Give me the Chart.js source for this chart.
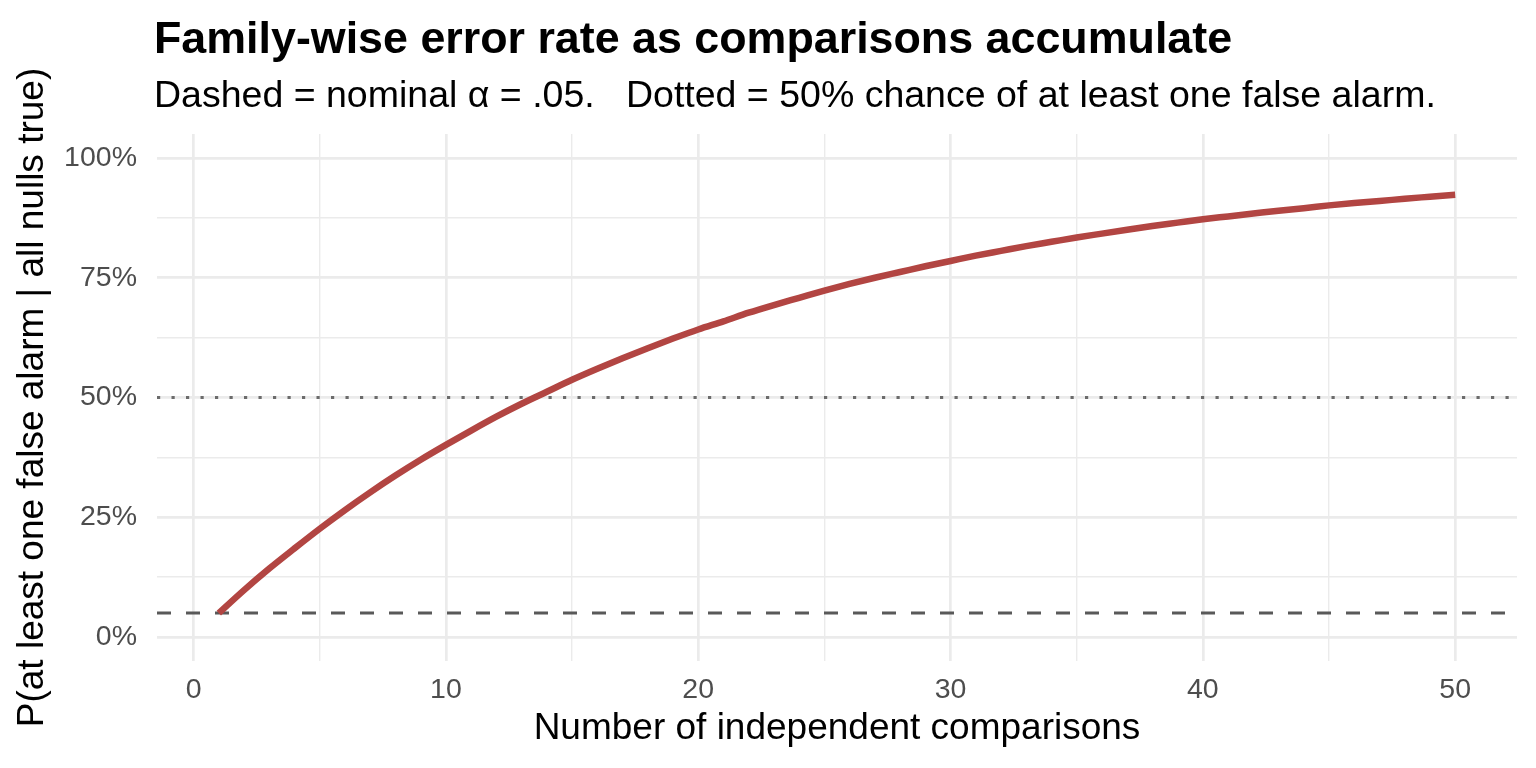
<!DOCTYPE html>
<html lang="en">
<head>
    <meta charset="UTF-8">
    <title>Family-wise error rate</title>
    <script src="https://cdn.jsdelivr.net/npm/chart.js"></script>
    <style>
        body { margin: 0; background: #fff; }
        .wrap { position: relative; width: 1536px; height: 768px; font-family: "Liberation Sans", Arial, sans-serif; }
        .title { position: absolute; left: 154px; top: 15px; font-size: 44.8px; font-weight: bold; line-height: 1; color: #000; white-space: pre; }
        .subtitle { position: absolute; left: 154px; top: 76px; font-size: 37.5px; line-height: 1; color: #000; white-space: pre; }
        canvas { position: absolute; left: 0; top: 0; }
    </style>
</head>
<body>
    <div class="wrap">
        <canvas id="fwerChart" width="1536" height="768"></canvas>
        <div class="title">Family-wise error rate as comparisons accumulate</div>
        <div class="subtitle">Dashed = nominal α = .05.   Dotted = 50% chance of at least one false alarm.</div>
    </div>

    <script>
        // values
        const comparisons = [1, 2, 3, 4, 5, 6, 7, 8, 9, 10,
            11, 12, 13, 14, 15, 16, 17, 18, 19, 20,
            21, 22, 23, 24, 25, 26, 27, 28, 29, 30,
            31, 32, 33, 34, 35, 36, 37, 38, 39, 40,
            41, 42, 43, 44, 45, 46, 47, 48, 49, 50];
        const fwer = [0.050, 0.098, 0.143, 0.185, 0.226, 0.265, 0.302, 0.337, 0.370, 0.401,
            0.431, 0.460, 0.487, 0.512, 0.537, 0.560, 0.582, 0.603, 0.623, 0.642,
            0.659, 0.677, 0.693, 0.708, 0.723, 0.737, 0.750, 0.762, 0.774, 0.785,
            0.796, 0.806, 0.816, 0.825, 0.834, 0.842, 0.850, 0.858, 0.865, 0.872,
            0.878, 0.884, 0.890, 0.895, 0.901, 0.906, 0.910, 0.915, 0.919, 0.923];

        const nominalAlpha = 0.05;
        const halfChance = 0.5;

        const xMajor = [0, 10, 20, 30, 40, 50];
        const xGrid = [0, 5, 10, 15, 20, 25, 30, 35, 40, 45, 50];
        const yMajor = [0, 0.25, 0.5, 0.75, 1];
        const yGrid = [0, 0.125, 0.25, 0.375, 0.5, 0.625, 0.75, 0.875, 1];
        const yLabels = ['0%', '25%', '50%', '75%', '100%'];

        const xMin = -1.45, xMax = 52.45;
        const yMin = -0.05, yMax = 1.05;

        const FONT = '"Liberation Sans", Arial, sans-serif';

        function refLine(y) {
            return [{ x: xMin, y: y }, { x: xMax, y: y }];
        }

        const ctx = document.getElementById('fwerChart').getContext('2d');
        const chart = new Chart(ctx, {
            type: 'line',
            data: {
                datasets: [
                    {
                        label: 'FWER',
                        data: comparisons.map((n, i) => ({ x: n, y: fwer[i] })),
                        borderColor: '#B24542',
                        borderWidth: 6.5,
                        pointRadius: 0,
                        cubicInterpolationMode: 'monotone',
                        borderCapStyle: 'butt'
                    },
                    {
                        label: 'nominal alpha',
                        data: refLine(nominalAlpha),
                        borderColor: '#595959',
                        borderWidth: 3,
                        borderDash: [14, 15],
                        pointRadius: 0
                    },
                    {
                        label: '50% chance',
                        data: refLine(halfChance),
                        borderColor: '#6b6b6b',
                        borderWidth: 3.2,
                        borderDash: [3.2, 11.3],
                        pointRadius: 0
                    }
                ]
            },
            options: {
                responsive: false,
                animation: false,
                devicePixelRatio: 1,
                layout: { padding: { top: 134, right: 19, bottom: 0, left: 0 } },
                plugins: {
                    legend: { display: false },
                    tooltip: { enabled: false }
                },
                scales: {
                    x: {
                        type: 'linear',
                        min: xMin,
                        max: xMax,
                        afterBuildTicks: s => { s.ticks = xGrid.map(v => ({ value: v })); },
                        afterFit: s => { s.height = 107; },
                        border: { display: false },
                        grid: {
                            color: '#EBEBEB',
                            drawTicks: false,
                            lineWidth: c => xMajor.includes(c.tick.value) ? 2.7 : 1.4
                        },
                        ticks: {
                            padding: 12,
                            color: '#4D4D4D',
                            font: { family: FONT, size: 28.5 },
                            maxRotation: 0,
                            autoSkip: false,
                            callback: v => xMajor.includes(v) ? String(v) : ''
                        },
                        title: {
                            display: true,
                            text: 'Number of independent comparisons',
                            color: '#000',
                            font: { family: FONT, size: 37 },
                            padding: { top: 0, bottom: 17 }
                        }
                    },
                    y: {
                        min: yMin,
                        max: yMax,
                        afterBuildTicks: s => { s.ticks = yGrid.map(v => ({ value: v })); },
                        afterFit: s => { s.width = 157; },
                        border: { display: false },
                        grid: {
                            color: '#EBEBEB',
                            drawTicks: false,
                            lineWidth: c => yMajor.includes(c.tick.value) ? 2.7 : 1.4
                        },
                        ticks: {
                            padding: 20,
                            color: '#4D4D4D',
                            font: { family: FONT, size: 28.5 },
                            autoSkip: false,
                            callback: v => {
                                const i = yMajor.indexOf(v);
                                return i >= 0 ? yLabels[i] : '';
                            }
                        },
                        title: {
                            display: true,
                            text: 'P(at least one false alarm | all nulls true)',
                            color: '#000',
                            font: { family: FONT, size: 37 },
                            padding: { top: 11, bottom: 0 }
                        }
                    }
                }
            }
        });
    </script>
</body>
</html>
